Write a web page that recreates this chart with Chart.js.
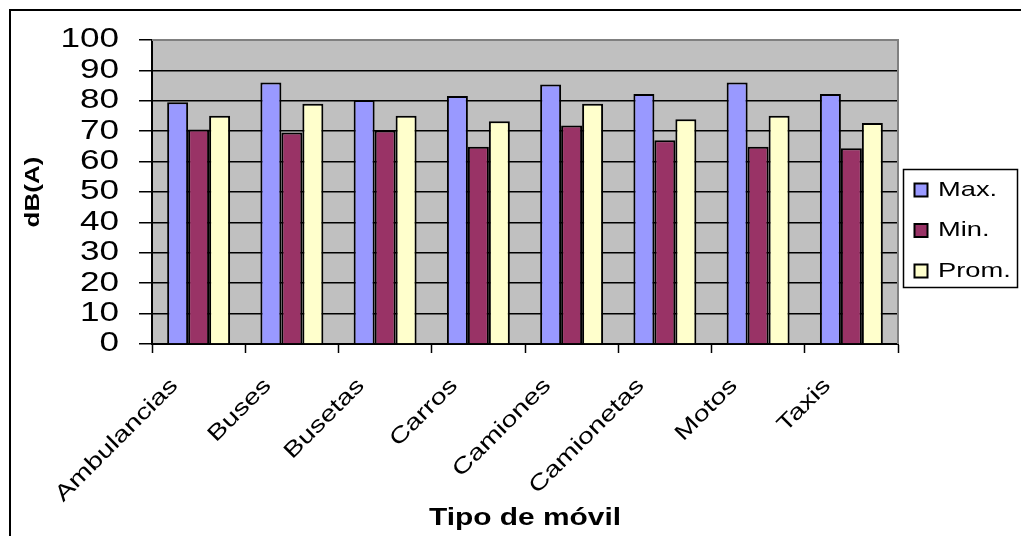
<!DOCTYPE html>
<html>
<head>
<meta charset="utf-8">
<script src="https://cdn.jsdelivr.net/npm/chart.js@4.4.0/dist/chart.umd.min.js"></script>
<style>
  html, body { margin: 0; padding: 0; background: #ffffff; }
  canvas { display: block; }
</style>
</head>
<body>
<canvas id="chart" width="1021" height="536"></canvas>
<script>
// Noise levels by vehicle type, dB(A)
const categories = ['Ambulancias', 'Buses', 'Busetas', 'Carros', 'Camiones', 'Camionetas', 'Motos', 'Taxis'];
const maxValues  = [79.5, 86.0, 80.3, 81.6, 85.4, 82.2, 86.0, 82.2];
const minValues  = [70.6, 69.6, 70.2, 64.9, 71.9, 67.0, 64.9, 64.4];
const promValues = [75.1, 79.0, 75.1, 73.3, 79.0, 73.9, 75.1, 72.7];
const seriesNames = ['Max.', 'Min.', 'Prom.'];
const yAxisMin = 0;
const yAxisMax = 100;
const yAxisStep = 10;

const FONT = "'Liberation Sans', Arial, sans-serif";
const TEXT_STRETCH = 1.3;   // wide lettering along the text direction

// Draw every label horizontally widened around its anchor point
const wideText = {
  id: 'wideText',
  beforeInit(chart) {
    const ctx = chart.ctx;
    const baseFillText = ctx.fillText;
    ctx.fillText = function (text, x, y, maxWidth) {
      this.save();
      this.translate(x, y);
      this.scale(TEXT_STRETCH, 1);
      if (maxWidth === undefined) {
        baseFillText.call(this, text, 0, 0);
      } else {
        baseFillText.call(this, text, 0, 0, maxWidth / TEXT_STRETCH);
      }
      this.restore();
    };
  }
};

// Grey plot background with a thin grey edge on top and right
const plotBackground = {
  id: 'plotBackground',
  beforeDraw(chart) {
    const { ctx, chartArea: a } = chart;
    ctx.save();
    ctx.fillStyle = '#c0c0c0';
    ctx.fillRect(a.left, a.top, a.right - a.left, a.bottom - a.top);
    ctx.restore();
  },
  beforeDatasetsDraw(chart) {
    const { ctx, chartArea: a } = chart;
    ctx.save();
    ctx.strokeStyle = '#808080';
    ctx.lineWidth = 2;
    ctx.beginPath();
    ctx.moveTo(a.left, a.top);
    ctx.lineTo(a.right, a.top);
    ctx.lineTo(a.right, a.bottom);
    ctx.stroke();
    ctx.restore();
  }
};

// Legend placed to the right of the plot, with a framed box
const legendPlacement = {
  id: 'legendPlacement',
  afterLayout(chart) {
    const lg = chart.legend;
    lg.left = 895;
    lg.top = 160;
    lg.width = 125;
    lg.height = 220;
    lg.right = lg.left + lg.width;
    lg.bottom = lg.top + lg.height;
  },
  afterDraw(chart) {
    const ctx = chart.ctx;
    ctx.save();
    ctx.strokeStyle = '#000000';
    ctx.lineWidth = 1.5;
    ctx.strokeRect(903.5, 169.5, 114, 118);
    // outer chart frame
    ctx.lineWidth = 2;
    ctx.beginPath();
    ctx.moveTo(10, 536);
    ctx.lineTo(10, 10);
    ctx.lineTo(1021, 10);
    ctx.stroke();
    ctx.restore();
  }
};

new Chart(document.getElementById('chart'), {
  type: 'bar',
  data: {
    labels: categories,
    datasets: [
      { label: seriesNames[0], data: maxValues,  backgroundColor: '#9999ff' },
      { label: seriesNames[1], data: minValues,  backgroundColor: '#993366' },
      { label: seriesNames[2], data: promValues, backgroundColor: '#ffffcc' }
    ]
  },
  options: {
    responsive: false,
    animation: false,
    devicePixelRatio: 1,
    layout: { padding: { left: 17, top: 40, right: 123, bottom: 0 } },
    datasets: {
      bar: {
        borderColor: '#000000',
        borderWidth: 2,
        barPercentage: 1.0,
        categoryPercentage: 0.675
      }
    },
    plugins: {
      tooltip: { enabled: false },
      legend: {
        position: 'chartArea',
        align: 'start',
        labels: {
          color: '#000000',
          font: { family: FONT, size: 21 },
          boxWidth: 13,
          boxHeight: 13,
          padding: 19.5
        }
      }
    },
    scales: {
      x: {
        grid: {
          display: true,
          drawOnChartArea: false,
          drawTicks: true,
          tickLength: 9,
          tickColor: '#000000',
          tickWidth: 1.5,
          offset: true
        },
        border: { display: true, color: '#000000', width: 2 },
        ticks: {
          color: '#000000',
          font: { family: FONT, size: 22 },
          minRotation: 45,
          maxRotation: 45,
          autoSkip: false,
          labelOffset: -24,
          padding: 20
        },
        title: {
          display: true,
          text: 'Tipo de móvil',
          color: '#000000',
          font: { family: FONT, size: 23, weight: 'bold' },
          padding: { top: 0, bottom: 4 }
        },
        afterFit(scale) { scale.height = 192; }
      },
      y: {
        min: yAxisMin,
        max: yAxisMax,
        ticks: {
          stepSize: yAxisStep,
          autoSkip: false,
          color: '#000000',
          font: { family: FONT, size: 27 },
          padding: 20
        },
        grid: {
          color: '#000000',
          lineWidth: 1.5,
          tickLength: 13,
          tickColor: '#000000',
          tickWidth: 1.5
        },
        border: { display: true, color: '#000000', width: 2 },
        title: {
          display: true,
          text: 'dB(A)',
          color: '#000000',
          font: { family: FONT, size: 20, weight: 'bold' },
          padding: { top: 4, bottom: 0 }
        },
        afterFit(scale) { scale.width = 135; }
      }
    }
  },
  plugins: [wideText, plotBackground, legendPlacement]
});
</script>
</body>
</html>
